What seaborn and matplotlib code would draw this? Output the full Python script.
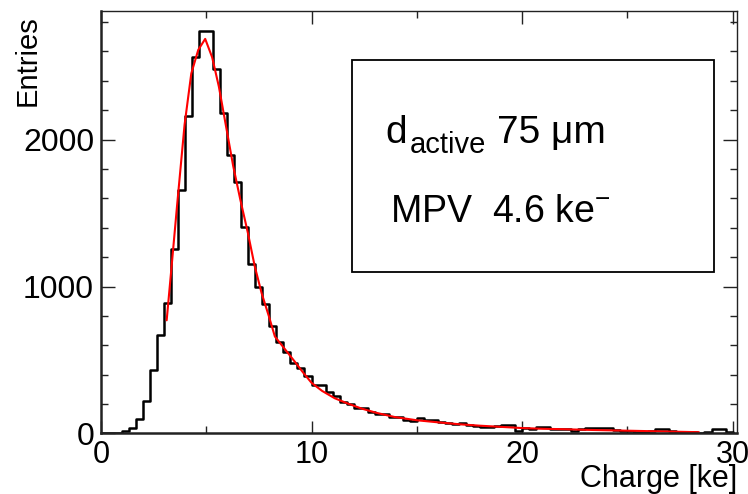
"""
Charge spectrum of a 75 um active thickness sensor with a Landau-Gauss fit.
"""

import numpy as np
import pandas as pd
import matplotlib
matplotlib.use("Agg")
import matplotlib.pyplot as plt
import seaborn as sns
from matplotlib.patches import Rectangle
from matplotlib.ticker import MultipleLocator


# ──────────────────────────────────────────────
# Data
# ──────────────────────────────────────────────

# 90 bins of 1/3 ke between 0 and 30 ke
n_bins = 90
charge_range = (0, 30)

entries = [
    2, 3, 6, 19, 35, 99, 221, 432, 668, 885,
    1255, 1656, 2161, 2562, 2740, 2737, 2483, 2184, 1895, 1710,
    1402, 1153, 998, 880, 731, 624, 556, 477, 443, 391,
    330, 330, 282, 253, 216, 200, 171, 171, 148, 135,
    133, 112, 110, 92, 87, 103, 92, 92, 80, 71,
    65, 72, 60, 50, 42, 42, 53, 57, 57, 19,
    35, 31, 46, 46, 31, 31, 31, 19, 31, 38,
    40, 40, 38, 24, 20, 14, 12, 12, 14, 28,
    28, 14, 12, 12, 10, 5, 12, 28, 28, 12,
]

fit_charge = [
    3.12, 3.35, 3.62, 3.97, 4.29, 4.62, 4.95, 5.28, 5.6, 5.94,
    6.28, 6.62, 6.97, 7.3, 7.63, 7.97, 8.26, 9.21, 9.6, 10.0,
    10.5, 11.1, 11.7, 12.37, 13.1, 13.95, 15.0, 16.0, 17.0, 18.0,
    19.0, 20.0, 21.0, 22.0, 23.0, 24.0, 25.0, 26.0, 27.0, 28.0, 28.4,
]
fit_entries = [
    770, 1130, 1560, 2100, 2450, 2610, 2685, 2560, 2360, 2090,
    1820, 1590, 1370, 1140, 955, 800, 660, 488, 415, 345,
    290, 240, 205, 170, 140, 112, 90, 76, 63, 53,
    45, 37, 32, 29, 25, 22, 19, 16, 13, 10, 9,
]

label_d, label_sub, label_thickness = "d", "active", "75 μm"
label_mpv = r"MPV  4.6 ke$^{-}$"


# ──────────────────────────────────────────────
# Plot
# ──────────────────────────────────────────────

sns.set_style("ticks")
plt.rcParams["font.family"] = ["Liberation Sans", "DejaVu Sans"]
plt.rcParams["mathtext.default"] = "regular"
for key in ["text.color", "axes.labelcolor", "xtick.color", "ytick.color"]:
    plt.rcParams[key] = "black"

fig = plt.figure(figsize=(7.48, 4.94), dpi=100)
ax = fig.add_axes([0.135, 0.1225, 0.850, 0.855])

bin_edges = np.linspace(charge_range[0], charge_range[1], n_bins + 1)
hist_df = pd.DataFrame({
    "charge": (bin_edges[:-1] + bin_edges[1:]) / 2,
    "entries": entries,
})
fit_df = pd.DataFrame({"charge": fit_charge, "entries": fit_entries})

sns.histplot(
    data=hist_df,
    x="charge",
    weights="entries",
    bins=n_bins,
    binrange=charge_range,
    element="step",
    fill=False,
    color="black",
    linewidth=1.8,
    ax=ax,
)
sns.lineplot(data=fit_df, x="charge", y="entries", color="#ff0000", linewidth=1.5, ax=ax)

ax.set_xlim(0, 30.2)
ax.set_ylim(0, 2874)

ax.xaxis.set_major_locator(MultipleLocator(10))
ax.xaxis.set_minor_locator(MultipleLocator(5))
ax.yaxis.set_major_locator(MultipleLocator(1000))
ax.yaxis.set_minor_locator(MultipleLocator(200))
ax.tick_params(axis="both", which="both", direction="in", top=True, right=True,
               color="#222222", width=1.0)
ax.tick_params(axis="x", which="major", length=9, pad=5, labelsize=22)
ax.tick_params(axis="x", which="minor", length=5)
ax.tick_params(axis="y", which="major", length=10, pad=5, labelsize=23)
ax.tick_params(axis="y", which="minor", length=5)

for side in ["left", "bottom"]:
    ax.spines[side].set_linewidth(1.8)
for side in ["top", "right"]:
    ax.spines[side].set_linewidth(1.0)
for spine in ax.spines.values():
    spine.set_color("#222222")

ax.set_xlabel("Charge [ke]", loc="right", fontsize=22)
ax.xaxis.set_label_coords(1.0, -0.072)
ax.set_ylabel("Entries", loc="top", fontsize=21)
ax.yaxis.set_label_coords(-0.093, 0.99)

# legend-like text box
ax.add_patch(Rectangle((0.395, 0.382), 0.569, 0.502, transform=ax.transAxes,
                       fill=False, edgecolor="black", linewidth=1.3))
ax.text(0.447, 0.688, label_d, transform=ax.transAxes,
        fontsize=28, va="baseline", ha="left")
ax.text(0.485, 0.664, label_sub, transform=ax.transAxes,
        fontsize=21, va="baseline", ha="left")
ax.text(0.623, 0.688, label_thickness, transform=ax.transAxes,
        fontsize=28, va="baseline", ha="left")
ax.text(0.454, 0.50, label_mpv, transform=ax.transAxes,
        fontsize=27, va="baseline", ha="left")

fig.savefig("out.png", dpi=100)
